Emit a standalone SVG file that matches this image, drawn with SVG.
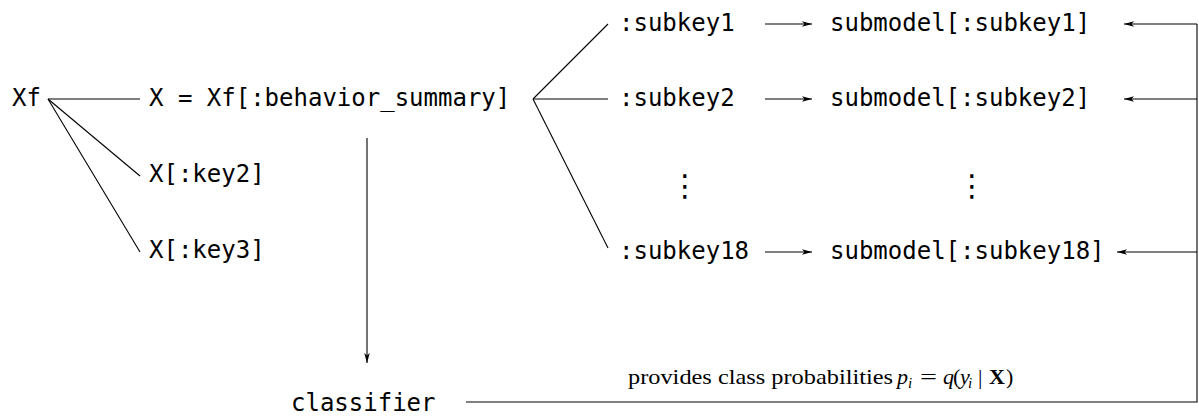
<svg xmlns="http://www.w3.org/2000/svg" width="1199" height="416" viewBox="0 0 1199 416">
<defs>
<style>
.t{font-family:"DejaVu Sans Mono","Liberation Mono",monospace;font-size:24px;fill:#000}
.c{fill:none;stroke:#000;stroke-width:1.1}
.dots{font-family:"DejaVu Sans",sans-serif;font-size:30px;fill:#000;text-anchor:middle}
.lab{font-family:"Liberation Serif",serif;font-size:22px;fill:#000}
.m{font-style:italic}
</style>
<marker id="ah" markerWidth="10" markerHeight="6" refX="10" refY="3" orient="auto" markerUnits="userSpaceOnUse">
<path d="M0,0.2 L10,3 L0,5.8 L2.5,3 Z" fill="#000"/>
</marker>
</defs>
<rect width="1199" height="416" fill="#fff"/>
<g id="connectors">
<path class="c" d="M48 99 L140 99"/>
<path class="c" d="M48 99 L140 176"/>
<path class="c" d="M48 99 L140 252"/>
<path class="c" d="M533 99 L608 24"/>
<path class="c" d="M533 99 L608 99"/>
<path class="c" d="M533 99 L608 248"/>
<path class="c" d="M765 24 L812 24" marker-end="url(#ah)"/>
<path class="c" d="M765 99 L812 99" marker-end="url(#ah)"/>
<path class="c" d="M765 252 L812 252" marker-end="url(#ah)"/>
<path class="c" d="M1197 24 L1124 24" marker-end="url(#ah)"/>
<path class="c" d="M1197 99 L1124 99" marker-end="url(#ah)"/>
<path class="c" d="M1197 252 L1117 252" marker-end="url(#ah)"/>
<path class="c" d="M1197 24 V402 H466"/>
<path class="c" d="M367 138 V363" marker-end="url(#ah)"/>
<text class="lab" y="384"><tspan x="628" textLength="265" lengthAdjust="spacingAndGlyphs">provides class probabilities</tspan><tspan x="897" class="m">p</tspan><tspan x="908" y="388" class="m" font-size="15">i</tspan><tspan x="920" y="384" textLength="17" lengthAdjust="spacingAndGlyphs">=</tspan><tspan x="943" class="m">q</tspan><tspan x="953">(</tspan><tspan x="960" class="m">y</tspan><tspan x="968" y="388" class="m" font-size="15">i</tspan><tspan x="978" y="384">|</tspan><tspan x="989" font-weight="bold">X</tspan><tspan x="1006">)</tspan></text>
</g>
<g id="node-xf"><text class="t" x="12" y="106">Xf</text></g>
<g id="node-x"><text class="t" x="149" y="106">X = Xf[:behavior_summary]</text></g>
<g id="node-key2"><text class="t" x="149" y="182">X[:key2]</text></g>
<g id="node-key3"><text class="t" x="149" y="258">X[:key3]</text></g>
<g id="node-subkey1"><text class="t" x="619" y="31">:subkey1</text></g>
<g id="node-subkey2"><text class="t" x="619" y="106">:subkey2</text></g>
<g id="node-dots1"><text class="dots" x="685" y="196">⋮</text></g>
<g id="node-subkey18"><text class="t" x="619" y="259">:subkey18</text></g>
<g id="node-submodel1"><text class="t" x="830" y="31">submodel[:subkey1]</text></g>
<g id="node-submodel2"><text class="t" x="830" y="106">submodel[:subkey2]</text></g>
<g id="node-dots2"><text class="dots" x="972" y="196">⋮</text></g>
<g id="node-submodel18"><text class="t" x="830" y="259">submodel[:subkey18]</text></g>
<g id="node-classifier"><text class="t" x="291" y="411">classifier</text></g>
</svg>
